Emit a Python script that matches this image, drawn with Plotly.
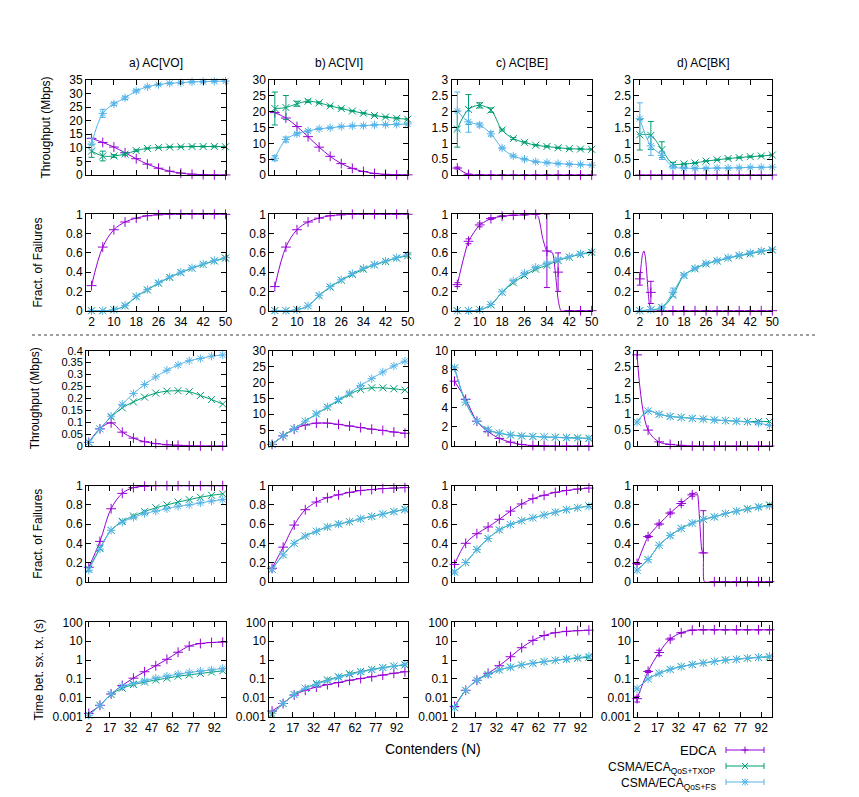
import plotly.graph_objects as go

W, H = 859, 797          # browser window
OFF = 8                  # default body margin of the html page
WF, HF = W - OFF, H - OFF  # figure size
FONT = "Liberation Sans, Arial, Helvetica, sans-serif"

# ---------------- categories / ticks ----------------
N_TOP = [2, 6, 10, 14, 18, 22, 26, 30, 34, 38, 42, 46, 50]
N_BOT = [2, 10, 18, 26, 34, 42, 50, 58, 66, 74, 82, 90, 98]
TICKS_TOP = [2, 10, 18, 26, 34, 42, 50]
TICKS_BOT = [2, 17, 32, 47, 62, 77, 92]
LOG_TICKS = [0.001, 0.01, 0.1, 1, 10, 100]
LOG_TEXT = ["0.001", "0.01", "0.1", "1", "10", "100"]
AC_TITLES = ["a) AC[VO]", "b) AC[VI]", "c) AC[BE]", "d) AC[BK]"]
SERIES = ["EDCA", "CSMA/ECA<sub>QoS+TXOP</sub>", "CSMA/ECA<sub>QoS+FS</sub>"]

# ---------------- scenario 1 : throughput ----------------
THR1_VO_EDCA = [13.5, 12.0, 10.3, 8.2, 6.0, 4.0, 2.5, 1.4, 0.7, 0.3, 0.12, 0.05, 0.02]
THR1_VO_TXOP = [8.8, 7.0, 7.0, 7.7, 9.0, 9.8, 10.1, 10.3, 10.4, 10.5, 10.5, 10.5, 10.4]
THR1_VO_FS = [11.4, 22.7, 26.2, 28.4, 31.0, 32.5, 33.3, 33.8, 34.0, 34.3, 34.4, 34.5, 34.6]
THR1_VO_TXOP_ERR = [2.3, 1.8, 0.5, 0.4, 0.3, 0.2, 0.2, 0.2, 0.2, 0.2, 0.2, 0.2, 0.2]
THR1_VO_FS_ERR = [2.2, 1.5, 0.6, 0.6, 0.4, 0.3, 0.3, 0.3, 0.3, 0.3, 0.3, 0.3, 0.3]

THR1_VI_EDCA = [19.7, 18.0, 15.3, 12.1, 8.8, 5.9, 3.6, 2.1, 1.1, 0.5, 0.2, 0.1, 0.05]
THR1_VI_TXOP = [21.0, 21.3, 22.5, 23.3, 22.8, 21.8, 21.0, 20.2, 19.5, 18.8, 18.3, 17.9, 17.6]
THR1_VI_FS = [5.3, 11.2, 13.0, 13.9, 14.6, 14.9, 15.3, 15.5, 15.6, 15.8, 15.9, 16.0, 16.1]
THR1_VI_TXOP_ERR = [5.2, 3.8, 0.8, 0.4, 0.3, 0.2, 0.2, 0.2, 0.2, 0.2, 0.2, 0.2, 0.2]
THR1_VI_FS_ERR = [0.8, 0.8, 0.4, 0.3, 0.2, 0.2, 0.2, 0.2, 0.2, 0.2, 0.2, 0.2, 0.2]

THR1_BE_EDCA = [0.22, 0.02, 0.005, 0, 0, 0, 0, 0, 0, 0, 0, 0, 0]
THR1_BE_TXOP = [1.45, 2.07, 2.2, 2.05, 1.42, 1.15, 1.03, 0.94, 0.9, 0.86, 0.83, 0.82, 0.81]
THR1_BE_FS = [2.02, 1.68, 1.58, 1.3, 0.85, 0.6, 0.5, 0.42, 0.39, 0.36, 0.34, 0.33, 0.31]
THR1_BE_EDCA_ERR = [0.03, 0.01, 0, 0, 0, 0, 0, 0, 0, 0, 0, 0, 0]
THR1_BE_TXOP_ERR = [0.57, 0.47, 0.08, 0.07, 0.03, 0.03, 0.02, 0.02, 0.02, 0.02, 0.02, 0.02, 0.02]
THR1_BE_FS_ERR = [0.6, 0.33, 0.06, 0.07, 0.03, 0.03, 0.02, 0.02, 0.02, 0.02, 0.02, 0.02, 0.02]

THR1_BK_EDCA = [0, 0, 0, 0, 0, 0, 0, 0, 0, 0, 0, 0, 0]
THR1_BK_TXOP = [1.27, 1.25, 0.8, 0.35, 0.35, 0.38, 0.44, 0.48, 0.52, 0.55, 0.58, 0.6, 0.63]
THR1_BK_FS = [1.78, 0.92, 0.62, 0.26, 0.22, 0.21, 0.21, 0.22, 0.22, 0.23, 0.24, 0.24, 0.25]
THR1_BK_TXOP_ERR = [0.48, 0.44, 0.25, 0.05, 0.02, 0.02, 0.02, 0.02, 0.02, 0.02, 0.02, 0.02, 0.02]
THR1_BK_FS_ERR = [0.5, 0.3, 0.13, 0.04, 0.02, 0.02, 0.02, 0.02, 0.02, 0.02, 0.02, 0.02, 0.02]

# ---------------- scenario 1 : fraction of failures ----------------
FAIL1_VO_EDCA = [0.26, 0.66, 0.84, 0.92, 0.96, 0.985, 0.995, 1, 1, 1, 1, 1, 1]
FAIL1_VO_TXOP = [0, 0, 0.01, 0.05, 0.145, 0.215, 0.285, 0.345, 0.395, 0.44, 0.48, 0.515, 0.545]
FAIL1_VO_FS = [0, 0, 0.01, 0.055, 0.15, 0.22, 0.29, 0.35, 0.4, 0.445, 0.485, 0.52, 0.55]

FAIL1_VI_EDCA = [0.25, 0.66, 0.84, 0.92, 0.96, 0.985, 0.995, 1, 1, 1, 1, 1, 1]
FAIL1_VI_TXOP = [0, 0, 0.01, 0.05, 0.155, 0.245, 0.315, 0.375, 0.43, 0.475, 0.51, 0.545, 0.57]
FAIL1_VI_FS = [0, 0, 0.01, 0.05, 0.16, 0.25, 0.32, 0.385, 0.44, 0.48, 0.515, 0.55, 0.58]

FAIL1_BE_EDCA = [0.27, 0.72, 0.89, 0.955, 0.98, 0.99, 0.995, 1.0, 0.62, 0.4, 0, 0, 0]
FAIL1_BE_TXOP = [0, 0, 0.01, 0.06, 0.19, 0.29, 0.365, 0.43, 0.47, 0.52, 0.555, 0.585, 0.605]
FAIL1_BE_FS = [0, 0, 0.01, 0.065, 0.195, 0.31, 0.39, 0.45, 0.49, 0.53, 0.56, 0.59, 0.61]
FAIL1_BE_EDCA_ERR = [0.02, 0.025, 0.02, 0.01, 0.005, 0, 0, 0, 0.38, 0.2, 0, 0, 0]
FAIL1_BE_EDCA_LINE_N = [2, 6, 10, 14, 18, 22, 26, 30, 31, 32.5, 33.5, 34, 36, 37, 38, 39, 42, 46, 50]
FAIL1_BE_EDCA_LINE = [0.27, 0.72, 0.89, 0.955, 0.98, 0.99, 0.995, 1.0, 0.97, 0.75, 0.65, 0.62,
                      0.6, 0.4, 0.12, 0, 0, 0, 0]

FAIL1_BK_EDCA = [0.33, 0.19, 0, 0, 0, 0, 0, 0, 0, 0, 0, 0, 0]
FAIL1_BK_TXOP = [0, 0.01, 0.03, 0.16, 0.365, 0.435, 0.485, 0.515, 0.545, 0.57, 0.59, 0.615, 0.63]
FAIL1_BK_FS = [0, 0.01, 0.035, 0.19, 0.37, 0.44, 0.49, 0.52, 0.55, 0.575, 0.6, 0.62, 0.635]
FAIL1_BK_EDCA_ERR = [0.065, 0.115, 0, 0, 0, 0, 0, 0, 0, 0, 0, 0, 0]
FAIL1_BK_FS_ERR = [0, 0, 0.01, 0.045, 0.01, 0.01, 0.01, 0.01, 0.01, 0.01, 0.01, 0.01, 0.01]
FAIL1_BK_EDCA_LINE_N = [2, 2.5, 3, 3.5, 4, 4.5, 5, 5.5, 6, 7, 10, 14, 18, 22, 26, 30, 34, 38, 42, 46, 50]
FAIL1_BK_EDCA_LINE = [0.33, 0.48, 0.59, 0.62, 0.56, 0.4, 0.2, 0.06, 0.02, 0, 0, 0, 0, 0, 0, 0, 0,
                      0, 0, 0, 0]

# ---------------- scenario 2 : throughput ----------------
THR2_VO_EDCA = [0.015, 0.072, 0.097, 0.058, 0.033, 0.018, 0.01, 0.005, 0.003, 0.001, 0, 0, 0]
THR2_VO_TXOP = [0.015, 0.072, 0.122, 0.16, 0.185, 0.205, 0.222, 0.23, 0.232, 0.228, 0.212, 0.195, 0.176]
THR2_VO_FS = [0.015, 0.072, 0.125, 0.175, 0.22, 0.258, 0.29, 0.318, 0.34, 0.358, 0.367, 0.377, 0.382]

THR2_VI_EDCA = [0.5, 3.2, 5.3, 6.6, 7.2, 7.2, 6.8, 6.3, 5.8, 5.3, 4.9, 4.4, 4.0]
THR2_VI_TXOP = [0.5, 3.2, 5.4, 7.8, 10.1, 12.2, 14.3, 16.3, 17.8, 18.3, 18.3, 18.0, 17.6]
THR2_VI_FS = [0.5, 3.2, 5.4, 7.8, 10.1, 12.3, 14.6, 16.7, 19.0, 21.2, 23.3, 25.2, 26.7]

THR2_BE_EDCA = [6.8, 4.9, 2.6, 1.5, 0.8, 0.4, 0.15, 0.05, 0.02, 0, 0, 0, 0]
THR2_BE_TXOP = [8.2, 4.6, 2.6, 1.7, 1.35, 1.15, 1.05, 1.0, 0.95, 0.92, 0.88, 0.85, 0.82]
THR2_BE_FS = [8.2, 4.6, 2.6, 1.7, 1.35, 1.15, 1.05, 1.0, 0.95, 0.9, 0.85, 0.8, 0.77]

THR2_BK_EDCA = [2.87, 0.5, 0.13, 0.05, 0.02, 0, 0, 0, 0, 0, 0, 0, 0]
THR2_BK_TXOP = [0.75, 1.1, 1.0, 0.93, 0.9, 0.87, 0.85, 0.82, 0.8, 0.78, 0.77, 0.77, 0.77]
THR2_BK_FS = [0.75, 1.1, 1.0, 0.93, 0.9, 0.87, 0.85, 0.82, 0.8, 0.78, 0.76, 0.72, 0.65]

# ---------------- scenario 2 : fraction of failures ----------------
FAIL2_VO_EDCA = [0.15, 0.42, 0.76, 0.92, 0.98, 0.995, 1, 1, 1, 1, 1, 1, 1]
FAIL2_VO_TXOP = [0.13, 0.35, 0.535, 0.63, 0.685, 0.73, 0.77, 0.8, 0.83, 0.855, 0.88, 0.9, 0.915]
FAIL2_VO_FS = [0.12, 0.34, 0.535, 0.62, 0.67, 0.71, 0.735, 0.76, 0.785, 0.8, 0.82, 0.84, 0.855]

FAIL2_VI_EDCA = [0.14, 0.36, 0.59, 0.75, 0.83, 0.875, 0.905, 0.93, 0.95, 0.96, 0.97, 0.975, 0.98]
FAIL2_VI_TXOP = [0.13, 0.28, 0.4, 0.475, 0.525, 0.57, 0.6, 0.625, 0.655, 0.68, 0.705, 0.73, 0.755]
FAIL2_VI_FS = [0.13, 0.28, 0.4, 0.475, 0.525, 0.57, 0.6, 0.625, 0.655, 0.68, 0.705, 0.73, 0.75]

FAIL2_BE_EDCA = [0.18, 0.4, 0.5, 0.57, 0.65, 0.735, 0.81, 0.865, 0.9, 0.93, 0.95, 0.965, 0.975]
FAIL2_BE_TXOP = [0.1, 0.2, 0.335, 0.45, 0.54, 0.595, 0.635, 0.665, 0.695, 0.725, 0.75, 0.77, 0.79]
FAIL2_BE_FS = [0.1, 0.2, 0.335, 0.45, 0.54, 0.595, 0.635, 0.665, 0.695, 0.725, 0.75, 0.77, 0.785]

FAIL2_BK_EDCA = [0.19, 0.47, 0.6, 0.715, 0.815, 0.905, 0.3, 0, 0, 0, 0, 0, 0]
FAIL2_BK_TXOP = [0.12, 0.23, 0.38, 0.48, 0.555, 0.61, 0.65, 0.675, 0.71, 0.735, 0.76, 0.78, 0.8]
FAIL2_BK_FS = [0.12, 0.23, 0.38, 0.48, 0.555, 0.61, 0.65, 0.675, 0.71, 0.735, 0.755, 0.775, 0.79]
FAIL2_BK_EDCA_ERR = [0.01, 0.01, 0.01, 0.01, 0.02, 0.015, 0.44, 0, 0, 0, 0, 0, 0]
FAIL2_BK_EDCA_ERR_MINUS = [0.01, 0.01, 0.01, 0.01, 0.02, 0.015, 0.0, 0, 0, 0, 0, 0, 0]
FAIL2_BK_EDCA_LINE_N = [2, 10, 18, 26, 34, 42, 45, 46, 47.5, 49, 50, 50.7, 58, 66, 74, 82, 90, 98]
FAIL2_BK_EDCA_LINE = [0.19, 0.47, 0.6, 0.715, 0.815, 0.905, 0.93, 0.9, 0.6, 0.32, 0.3, 0, 0, 0, 0,
                      0, 0, 0]

# ---------------- scenario 2 : time between successful tx ----------------
TBS2_VO_EDCA = [0.0015, 0.004, 0.016, 0.045, 0.11, 0.24, 0.5, 1.1, 2.6, 5.5, 7.5, 8.5, 9.0]
TBS2_VO_TXOP = [0.0012, 0.004, 0.015, 0.032, 0.05, 0.068, 0.088, 0.11, 0.14, 0.165, 0.195, 0.23, 0.27]
TBS2_VO_FS = [0.0012, 0.004, 0.016, 0.04, 0.058, 0.08, 0.11, 0.14, 0.18, 0.22, 0.26, 0.3, 0.36]

TBS2_VI_EDCA = [0.002, 0.005, 0.014, 0.025, 0.037, 0.05, 0.065, 0.085, 0.105, 0.13, 0.16, 0.2, 0.24]
TBS2_VI_TXOP = [0.0013, 0.005, 0.015, 0.032, 0.058, 0.09, 0.13, 0.19, 0.25, 0.32, 0.4, 0.48, 0.55]
TBS2_VI_FS = [0.0015, 0.005, 0.015, 0.032, 0.052, 0.08, 0.12, 0.17, 0.23, 0.3, 0.38, 0.47, 0.6]

TBS2_BE_EDCA = [0.0035, 0.025, 0.085, 0.2, 0.5, 1.5, 4.5, 11, 20, 28, 33, 36, 38]
TBS2_BE_TXOP = [0.003, 0.025, 0.085, 0.17, 0.3, 0.42, 0.55, 0.68, 0.82, 0.97, 1.1, 1.25, 1.4]
TBS2_BE_FS = [0.003, 0.025, 0.085, 0.17, 0.3, 0.42, 0.55, 0.68, 0.82, 0.97, 1.15, 1.35, 1.6]

TBS2_BK_EDCA = [0.009, 0.25, 2.5, 13, 28, 38, 40, 40, 40, 40, 40, 40, 40]
TBS2_BK_TXOP = [0.03, 0.1, 0.2, 0.32, 0.45, 0.58, 0.7, 0.85, 1.0, 1.1, 1.25, 1.38, 1.45]
TBS2_BK_FS = [0.03, 0.1, 0.2, 0.32, 0.45, 0.58, 0.7, 0.85, 1.0, 1.1, 1.25, 1.4, 1.6]
TBS2_BK_EDCA_ERR = [0.003, 0.03, 0.8, 1.5, 1.0, 0.5, 0, 0, 0, 0, 0, 0, 0]

# ---------------- styling ----------------
COLORS = ["#9400d3", "#009e73", "#56b4e9"]
SYMBOLS = ["cross-thin-open", "x-thin-open", "asterisk-open"]
COL_L = [86, 269.3, 451.7, 634.3]
COL_R = [225.5, 407.7, 591.7, 772.3]
ROW_T = [80, 214.3, 350.7, 485.7, 622.3]
ROW_B = [175, 310.7, 446, 581.7, 716.7]

Z = None
PANELS = [
    # row 1
    dict(x=N_TOP, ys=[THR1_VO_EDCA, THR1_VO_TXOP, THR1_VO_FS], errs=[Z, THR1_VO_TXOP_ERR, THR1_VO_FS_ERR], yr=[0, 35], dt=5),
    dict(x=N_TOP, ys=[THR1_VI_EDCA, THR1_VI_TXOP, THR1_VI_FS], errs=[Z, THR1_VI_TXOP_ERR, THR1_VI_FS_ERR], yr=[0, 30], dt=5),
    dict(x=N_TOP, ys=[THR1_BE_EDCA, THR1_BE_TXOP, THR1_BE_FS], errs=[THR1_BE_EDCA_ERR, THR1_BE_TXOP_ERR, THR1_BE_FS_ERR], yr=[0, 3], dt=0.5),
    dict(x=N_TOP, ys=[THR1_BK_EDCA, THR1_BK_TXOP, THR1_BK_FS], errs=[Z, THR1_BK_TXOP_ERR, THR1_BK_FS_ERR], yr=[0, 3], dt=0.5),
    # row 2
    dict(x=N_TOP, ys=[FAIL1_VO_EDCA, FAIL1_VO_TXOP, FAIL1_VO_FS], errs=[Z, Z, Z], yr=[0, 1], dt=0.2),
    dict(x=N_TOP, ys=[FAIL1_VI_EDCA, FAIL1_VI_TXOP, FAIL1_VI_FS], errs=[Z, Z, Z], yr=[0, 1], dt=0.2),
    dict(x=N_TOP, ys=[FAIL1_BE_EDCA, FAIL1_BE_TXOP, FAIL1_BE_FS], errs=[FAIL1_BE_EDCA_ERR, Z, Z], yr=[0, 1], dt=0.2,
         line0=(FAIL1_BE_EDCA_LINE_N, FAIL1_BE_EDCA_LINE)),
    dict(x=N_TOP, ys=[FAIL1_BK_EDCA, FAIL1_BK_TXOP, FAIL1_BK_FS], errs=[FAIL1_BK_EDCA_ERR, Z, FAIL1_BK_FS_ERR], yr=[0, 1], dt=0.2,
         line0=(FAIL1_BK_EDCA_LINE_N, FAIL1_BK_EDCA_LINE)),
    # row 3
    dict(x=N_BOT, ys=[THR2_VO_EDCA, THR2_VO_TXOP, THR2_VO_FS], errs=[Z, Z, Z], yr=[0, 0.4], dt=0.05, tfs=11),
    dict(x=N_BOT, ys=[THR2_VI_EDCA, THR2_VI_TXOP, THR2_VI_FS], errs=[Z, Z, Z], yr=[0, 30], dt=5),
    dict(x=N_BOT, ys=[THR2_BE_EDCA, THR2_BE_TXOP, THR2_BE_FS], errs=[Z, Z, Z], yr=[0, 10], dt=2),
    dict(x=N_BOT, ys=[THR2_BK_EDCA, THR2_BK_TXOP, THR2_BK_FS], errs=[Z, Z, Z], yr=[0, 3], dt=0.5),
    # row 4
    dict(x=N_BOT, ys=[FAIL2_VO_EDCA, FAIL2_VO_TXOP, FAIL2_VO_FS], errs=[Z, Z, Z], yr=[0, 1], dt=0.2),
    dict(x=N_BOT, ys=[FAIL2_VI_EDCA, FAIL2_VI_TXOP, FAIL2_VI_FS], errs=[Z, Z, Z], yr=[0, 1], dt=0.2),
    dict(x=N_BOT, ys=[FAIL2_BE_EDCA, FAIL2_BE_TXOP, FAIL2_BE_FS], errs=[Z, Z, Z], yr=[0, 1], dt=0.2),
    dict(x=N_BOT, ys=[FAIL2_BK_EDCA, FAIL2_BK_TXOP, FAIL2_BK_FS], errs=[FAIL2_BK_EDCA_ERR, Z, Z], yr=[0, 1], dt=0.2,
         errm0=FAIL2_BK_EDCA_ERR_MINUS, line0=(FAIL2_BK_EDCA_LINE_N, FAIL2_BK_EDCA_LINE)),
    # row 5
    dict(x=N_BOT, ys=[TBS2_VO_EDCA, TBS2_VO_TXOP, TBS2_VO_FS], errs=[Z, Z, Z], log=True),
    dict(x=N_BOT, ys=[TBS2_VI_EDCA, TBS2_VI_TXOP, TBS2_VI_FS], errs=[Z, Z, Z], log=True),
    dict(x=N_BOT, ys=[TBS2_BE_EDCA, TBS2_BE_TXOP, TBS2_BE_FS], errs=[Z, Z, Z], log=True),
    dict(x=N_BOT, ys=[TBS2_BK_EDCA, TBS2_BK_TXOP, TBS2_BK_FS], errs=[TBS2_BK_EDCA_ERR, Z, Z], log=True),
]


def px(x):
    return (x - OFF) / WF


def py(y):
    return 1 - (y - OFF) / HF


fig = go.Figure()
layout = dict(template="none", width=WF, height=HF,
              margin=dict(l=0, r=0, t=0, b=0, pad=0, autoexpand=False),
              paper_bgcolor="white", plot_bgcolor="white", showlegend=False,
              font=dict(family=FONT, size=12, color="black"))

for p_i, p in enumerate(PANELS):
    r, c = divmod(p_i, 4)
    k = p_i + 1
    xa = "x" if k == 1 else f"x{k}"
    ya = "y" if k == 1 else f"y{k}"
    top = r < 2
    for s in range(3):
        err = p["errs"][s]
        ey = None
        if err is not None:
            ey = dict(type="data", array=err, visible=True, color=COLORS[s], thickness=1, width=3)
            if s == 0 and "errm0" in p:
                ey["symmetric"] = False
                ey["arrayminus"] = p["errm0"]
        custom_line = (s == 0 and "line0" in p)
        if custom_line:
            lx, ly = p["line0"]
            fig.add_trace(go.Scatter(x=lx, y=ly, xaxis=xa, yaxis=ya, mode="lines",
                                     line=dict(color=COLORS[s], width=1, shape="spline", smoothing=0.5),
                                     hoverinfo="skip"))
        fig.add_trace(go.Scatter(
            x=p["x"], y=p["ys"][s], xaxis=xa, yaxis=ya,
            mode="markers" if custom_line else "lines+markers",
            line=dict(color=COLORS[s], width=1, shape="spline", smoothing=1.0),
            marker=dict(symbol=SYMBOLS[s], size=7, color=COLORS[s],
                        line=dict(color=COLORS[s], width=1)),
            error_y=ey, cliponaxis=False, name=SERIES[s]))

    common = dict(showline=True, linecolor="black", linewidth=1, mirror="allticks",
                  ticks="inside", ticklen=5, tickwidth=1, tickcolor="black", automargin=False,
                  showgrid=False, zeroline=False, tickfont=dict(family=FONT, size=12, color="black"))
    xdict = dict(common, domain=[px(COL_L[c]), px(COL_R[c])], anchor=ya,
                 range=[0, 50] if top else [0, 100],
                 tickmode="array", tickvals=TICKS_TOP if top else TICKS_BOT,
                 showticklabels=(r in (1, 4)))
    if p.get("log"):
        ydict = dict(common, domain=[py(ROW_B[r]), py(ROW_T[r])], anchor=xa,
                     type="log", range=[-3, 2], tickmode="array",
                     tickvals=LOG_TICKS, ticktext=LOG_TEXT)
    else:
        ydict = dict(common, domain=[py(ROW_B[r]), py(ROW_T[r])], anchor=xa,
                     range=p["yr"], dtick=p["dt"], tick0=0)
        if "tfs" in p:
            ydict["tickfont"] = dict(family=FONT, size=p["tfs"], color="black")
    layout["xaxis" if k == 1 else f"xaxis{k}"] = xdict
    layout["yaxis" if k == 1 else f"yaxis{k}"] = ydict

fig.update_layout(**layout)

A = dict(showarrow=False, xref="paper", yref="paper", xanchor="center", yanchor="middle")
ann = []
for c in range(4):
    ann.append(dict(A, x=px((COL_L[c] + COL_R[c]) / 2), y=py(63), text=AC_TITLES[c], font=dict(size=12)))
for txt, yc, xc in [("Throughput (Mbps)", (ROW_T[0] + ROW_B[0]) / 2, 46),
                    ("Fract. of Failures", (ROW_T[1] + ROW_B[1]) / 2, 38),
                    ("Throughput (Mbps)", (ROW_T[2] + ROW_B[2]) / 2, 35),
                    ("Fract. of Failures", (ROW_T[3] + ROW_B[3]) / 2, 38),
                    ("Time bet. sx. tx. (s)", (ROW_T[4] + ROW_B[4]) / 2, 38)]:
    ann.append(dict(A, x=px(xc), y=py(yc), text=txt, textangle=-90, font=dict(size=12)))
ann.append(dict(A, x=px(433), y=py(749), text="Contenders (N)", font=dict(size=14)))

shapes = [dict(type="line", xref="paper", yref="paper", x0=px(32), x1=px(817), y0=py(335), y1=py(335),
               line=dict(color="#808080", width=1.5, dash="dot"))]

LEG_Y = [750, 766, 782]
for s in range(3):
    yy = LEG_Y[s]
    ann.append(dict(A, x=px(718), y=py(yy + (2 if s else 0)), text=SERIES[s], xanchor="right",
                    font=dict(size=13 if s == 0 else 12)))
    col = COLORS[s]
    L = dict(color=col, width=1)
    shapes.append(dict(type="line", xref="paper", yref="paper", x0=px(726), x1=px(764),
                       y0=py(yy), y1=py(yy), line=L))
    for xe in (726, 764):
        shapes.append(dict(type="line", xref="paper", yref="paper", x0=px(xe), x1=px(xe),
                           y0=py(yy - 3), y1=py(yy + 3), line=L))
    xm = 745
    if s in (0, 2):
        shapes.append(dict(type="line", xref="paper", yref="paper", x0=px(xm - 3.5), x1=px(xm + 3.5),
                           y0=py(yy), y1=py(yy), line=L))
        shapes.append(dict(type="line", xref="paper", yref="paper", x0=px(xm), x1=px(xm),
                           y0=py(yy - 3.5), y1=py(yy + 3.5), line=L))
    if s in (1, 2):
        shapes.append(dict(type="line", xref="paper", yref="paper", x0=px(xm - 3), x1=px(xm + 3),
                           y0=py(yy - 3), y1=py(yy + 3), line=L))
        shapes.append(dict(type="line", xref="paper", yref="paper", x0=px(xm - 3), x1=px(xm + 3),
                           y0=py(yy + 3), y1=py(yy - 3), line=L))

fig.update_layout(annotations=ann, shapes=shapes)
fig.write_html("out.html")
